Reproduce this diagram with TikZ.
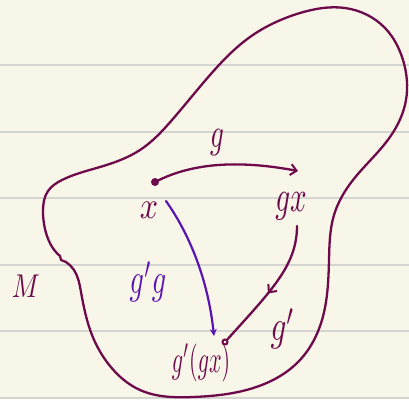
\documentclass[tikz,border=0pt]{standalone}
\usepackage{graphicx}
\usetikzlibrary{arrows.meta,decorations.markings,hobby}
\definecolor{bg}{HTML}{F8F6E8}
\definecolor{rule}{HTML}{D4D4D0}
\definecolor{maroon}{HTML}{6E0A4B}
\definecolor{violet}{HTML}{5A14B4}
\newcommand\hw[3]{\scalebox{#1}[#2]{$#3$}}
\begin{document}
\begin{tikzpicture}[x=1pt,y=-1pt,
  ink/.style={draw=maroon,line width=2.3pt,line cap=round,line join=round},
  vink/.style={draw=violet,line width=2.2pt,line cap=round},
  lbl/.style={text=maroon,inner sep=0pt},
  vlbl/.style={text=violet,inner sep=0pt},
  chev/.style={-{Straight Barb[length=6pt,width=11pt,line width=2pt]}}]
\fill[bg] (0,0) rectangle (409,399);
\useasboundingbox (0,0) rectangle (409,399);
\foreach \yy in {65,132,198,265,331,398}
  \draw[rule,line width=1.3pt] (0,\yy) -- (409,\yy);
% outline of M
\draw[ink,use Hobby shortcut] (60,256) .. (55,251) .. (47,236) .. (43,212) .. (48,191)
  .. (62,180) .. (100,167) .. (140,150) .. (172,120) .. (210,75) .. (250,37)
  .. (300,13) .. (345,8) .. (385,28) .. (403,60) .. (406,100) .. (390,137)
  .. (353,180) .. (334,215) .. (329,260) .. (322,320) .. (300,360) .. (250,389)
  .. (193,397) .. (140,390) .. (110,366) .. (92,335) .. (81,292) .. (74,270) .. (66,262);
\draw[ink] (66,262) -- (61,260) -- (60,256);
% points
\node[circle,fill=maroon,inner sep=0pt,minimum size=8pt] (px) at (155,182) {};
\coordinate (gxend) at (298,171);
\node[circle,draw=maroon,line width=2pt,inner sep=0pt,minimum size=5pt] (pgg) at (225,342) {};
\coordinate (gxstart) at (297,226);
\coordinate (xstart) at (166,201);
\coordinate (vend) at (214,336);
% labels
\node[lbl] (lg) at (217,143) {\hw{2.7}{4.2}{g}};
\node[lbl] (lx) at (149,210) {\hw{3.2}{3.8}{x}};
\node[lbl] (lgx) at (291,206) {\hw{2.9}{4.4}{gx}};
\node[vlbl] (lgg) at (148,282) {\hw{2.8}{4.3}{g'g}};
\node[lbl] (lM) at (26,286) {\hw{2.6}{3.3}{M}};
\node[lbl] (lgp) at (283,329) {\hw{3.1}{4.3}{g'}};
\node[lbl] (lggx) at (201,363) {\hw{2.2}{3.8}{g'(gx)}};
% arrows
\draw[ink,chev] (px) .. controls (200,160) and (250,162) .. (gxend);
\draw[vink,-{Stealth[length=7pt,width=7pt]}] (xstart) .. controls (190,235) and (208,280) .. (vend);
\draw[ink,postaction={decorate},decoration={markings,
  mark=at position 0.55 with {\arrow{Straight Barb[length=6pt,width=11pt,line width=2pt]}}}]
  (gxstart) .. controls (297,265) and (272,290) .. (pgg);
\end{tikzpicture}
\end{document}
